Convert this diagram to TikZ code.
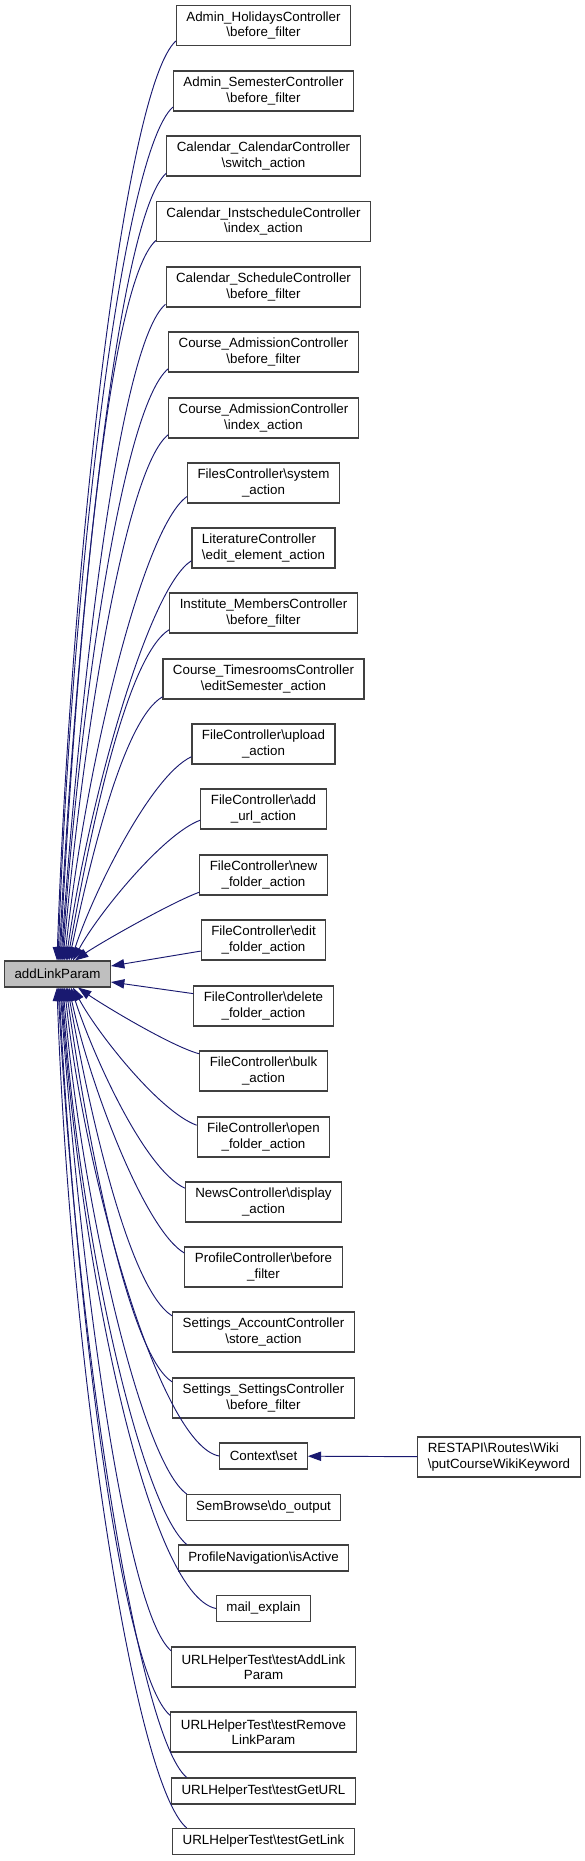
\documentclass[tikz,border=0pt]{standalone}
\usepackage{fontspec}
\setmainfont{Liberation Sans}
\usetikzlibrary{arrows.meta}
\definecolor{navy}{RGB}{25,25,112}
\newcommand{\bsl}{\textbackslash}

\begin{document}
\begin{tikzpicture}[x=0.75pt,y=0.75pt,
    fn/.style={draw=black!75,line width=0.8pt,fill=white,align=center,%
      font=\fontsize{10}{11.5}\selectfont,inner xsep=7.5pt,inner ysep=2pt,%
      minimum height=19.5pt},
    fntwo/.style={fn,minimum height=30pt},
    call/.style={draw=navy,line width=0.7pt,-{Triangle[length=10pt,width=7pt]}}]

      % 画像の大きさ (px 単位)
      \useasboundingbox (0,0) rectangle (585,-1861);

      \node[fn,fill=black!25] (addlink) at (57.5,-974) {addLinkParam};

      % 呼び出し元
      \node[fntwo] (holidays) at (263.5,-25.5) {Admin\_HolidaysController\\\bsl before\_filter};
      \node[fntwo] (semester) at (263.5,-91) {Admin\_SemesterController\\\bsl before\_filter};
      \node[fntwo] (calswitch) at (263.5,-156) {Calendar\_CalendarController\\\bsl switch\_action};
      \node[fntwo] (instsched) at (263.5,-221.5) {Calendar\_InstscheduleController\\\bsl index\_action};
      \node[fntwo] (calsched) at (263.5,-287) {Calendar\_ScheduleController\\\bsl before\_filter};
      \node[fntwo] (admbefore) at (263.5,-352) {Course\_AdmissionController\\\bsl before\_filter};
      \node[fntwo] (admindex) at (263.5,-418) {Course\_AdmissionController\\\bsl index\_action};
      \node[fntwo] (filessys) at (263.5,-483) {FilesController\bsl system\\\_action};
      \node[fntwo,align=left] (litedit) at (263.5,-548) {LiteratureController\\\bsl edit\_element\_action};
      \node[fntwo] (instmembers) at (263.5,-613) {Institute\_MembersController\\\bsl before\_filter};
      \node[fntwo] (timesrooms) at (263.5,-679) {Course\_TimesroomsController\\\bsl editSemester\_action};
      \node[fntwo] (upload) at (263.5,-744) {FileController\bsl upload\\\_action};
      \node[fntwo] (addurl) at (263.5,-809) {FileController\bsl add\\\_url\_action};
      \node[fntwo] (newfolder) at (263.5,-875) {FileController\bsl new\\\_folder\_action};
      \node[fntwo] (editfolder) at (263.5,-940) {FileController\bsl edit\\\_folder\_action};
      \node[fntwo] (delfolder) at (263.5,-1006) {FileController\bsl delete\\\_folder\_action};
      \node[fntwo] (bulk) at (263.5,-1071) {FileController\bsl bulk\\\_action};
      \node[fntwo] (openfolder) at (263.5,-1137) {FileController\bsl open\\\_folder\_action};
      \node[fntwo] (newsdisp) at (263.5,-1202) {NewsController\bsl display\\\_action};
      \node[fntwo] (profbefore) at (263.5,-1267) {ProfileController\bsl before\\\_filter};
      \node[fntwo] (accstore) at (263.5,-1332) {Settings\_AccountController\\\bsl store\_action};
      \node[fntwo] (setbefore) at (263.5,-1398) {Settings\_SettingsController\\\bsl before\_filter};
      \node[fn] (ctxset) at (263.5,-1456) {Context\bsl set};
      \node[fn] (semout) at (263.5,-1507.5) {SemBrowse\bsl do\_output};
      \node[fn] (profnav) at (263.5,-1558) {ProfileNavigation\bsl isActive};
      \node[fn] (mailexpl) at (263.5,-1608.5) {mail\_explain};
      \node[fntwo] (testadd) at (263.5,-1667) {URLHelperTest\bsl testAddLink\\Param};
      \node[fntwo] (testremove) at (263.5,-1732) {URLHelperTest\bsl testRemove\\LinkParam};
      \node[fn] (testurl) at (263.5,-1791) {URLHelperTest\bsl testGetURL};
      \node[fn] (testlink) at (263.5,-1841.5) {URLHelperTest\bsl testGetLink};

      \node[fntwo,align=left] (restapi) at (499,-1457) {RESTAPI\bsl Routes\bsl Wiki\\\bsl putCourseWikiKeyword};

      % 上側の矢印
      \draw[call] (holidays.190) to[out=222,in=88,out distance=52pt,in distance=300pt] ([xshift=-0.4pt]addlink.north);
      \draw[call] (semester.190) to[out=222,in=88,out distance=52pt,in distance=278pt] ([xshift=0.4pt]addlink.north);
      \draw[call] (calswitch.190) to[out=222,in=87,out distance=49pt,in distance=255pt] ([xshift=1.1pt]addlink.north);
      \draw[call] (instsched.190) to[out=222,in=87,out distance=49pt,in distance=232pt] ([xshift=1.9pt]addlink.north);
      \draw[call] (calsched.190) to[out=220,in=86,out distance=45pt,in distance=210pt] ([xshift=2.6pt]addlink.north);
      \draw[call] (admbefore.190) to[out=220,in=86,out distance=45pt,in distance=188pt] ([xshift=3.4pt]addlink.north);
      \draw[call] (admindex.190) to[out=218,in=85,out distance=41pt,in distance=165pt] ([xshift=4.1pt]addlink.north);
      \draw[call] (filessys.190) to[out=215,in=84,out distance=41pt,in distance=142pt] ([xshift=5.3pt]addlink.north);
      \draw[call] (litedit.190) to[out=212,in=82,out distance=38pt,in distance=120pt] ([xshift=6.4pt]addlink.north);
      \draw[call] (instmembers.190) to[out=212,in=80,out distance=38pt,in distance=98pt] ([xshift=7.5pt]addlink.north);
      \draw[call] (timesrooms.190) to[out=210,in=78,out distance=34pt,in distance=75pt] ([xshift=8.6pt]addlink.north);
      \draw[call] (upload.190) to[out=205,in=72,out distance=34pt,in distance=52pt] ([xshift=10.1pt]addlink.north);
      \draw[call] (addurl.190) to[out=200,in=62,out distance=30pt,in distance=38pt] ([xshift=11.6pt]addlink.north);
      \draw[call] (newfolder.195) to[out=200,in=35,out distance=22pt,in distance=22pt] ([xshift=13.1pt]addlink.north);
      \draw[call] (editfolder.190) -- ([yshift=6pt]addlink.east);
      \draw[call] (delfolder.170) -- ([yshift=-6pt]addlink.east);

      % 下側の矢印
      \draw[call] (bulk.165) to[out=165,in=-35,out distance=22pt,in distance=22pt] ([xshift=15.4pt]addlink.south);
      \draw[call] (openfolder.170) to[out=160,in=-62,out distance=30pt,in distance=38pt] ([xshift=11.6pt]addlink.south);
      \draw[call] (newsdisp.170) to[out=155,in=-72,out distance=34pt,in distance=52pt] ([xshift=10.1pt]addlink.south);
      \draw[call] (profbefore.170) to[out=150,in=-78,out distance=34pt,in distance=75pt] ([xshift=8.6pt]addlink.south);
      \draw[call] (accstore.170) to[out=148,in=-80,out distance=38pt,in distance=98pt] ([xshift=7.5pt]addlink.south);
      \draw[call] (setbefore.170) to[out=148,in=-82,out distance=38pt,in distance=120pt] ([xshift=6.4pt]addlink.south);
      \draw[call] (ctxset.west) to[out=170,in=-84,out distance=45pt,in distance=142pt] ([xshift=5.3pt]addlink.south);
      \draw[call] (semout.170) to[out=145,in=-85,out distance=41pt,in distance=165pt] ([xshift=4.1pt]addlink.south);
      \draw[call] (profnav.170) to[out=140,in=-86,out distance=45pt,in distance=188pt] ([xshift=3.4pt]addlink.south);
      \draw[call] (mailexpl.west) to[out=168,in=-86,out distance=52pt,in distance=210pt] ([xshift=2.6pt]addlink.south);
      \draw[call] (testadd.170) to[out=140,in=-86,out distance=45pt,in distance=210pt] ([xshift=1.9pt]addlink.south);
      \draw[call] (testremove.170) to[out=140,in=-87,out distance=49pt,in distance=232pt] ([xshift=1.1pt]addlink.south);
      \draw[call] (testurl.170) to[out=140,in=-87,out distance=49pt,in distance=255pt] ([xshift=0.4pt]addlink.south);
      \draw[call] (testlink.170) to[out=140,in=-88,out distance=52pt,in distance=278pt] ([xshift=-0.4pt]addlink.south);

      \draw[call] (restapi) -- (ctxset);
    \end{tikzpicture}
\end{document}
